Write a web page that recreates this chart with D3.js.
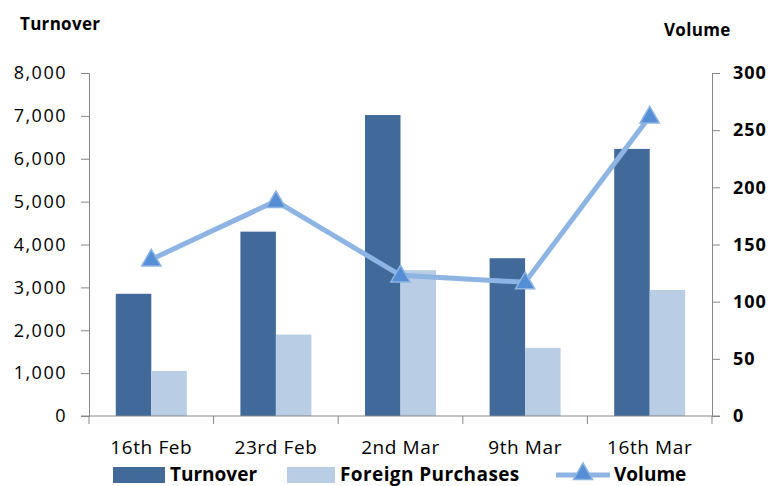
<!DOCTYPE html>
<html>
<head>
<meta charset="utf-8">
<style>
  body { margin: 0; background: #fff; }
  text { font-family: "Open Sans", sans-serif; }
</style>
</head>
<body>
<div id="chart"></div>
<script src="https://cdn.jsdelivr.net/npm/d3@7"></script>
<script>
var width = 772, height = 486;

var weeks = ['16th Feb', '23rd Feb', '2nd Mar', '9th Mar', '16th Mar'];
var turnover = [2850, 4300, 7020, 3680, 6230];
var foreign = [1050, 1900, 3400, 1590, 2940];
var volume = [137, 188, 123, 117, 262];

var leftTicks = [0, 1000, 2000, 3000, 4000, 5000, 6000, 7000, 8000];
var rightTicks = [0, 50, 100, 150, 200, 250, 300];

var margin = {left: 89, right: 60, top: 73, bottom: 70};

var svg = d3.select('#chart').append('svg')
    .attr('width', width)
    .attr('height', height);

var x = d3.scaleBand()
    .domain(weeks)
    .range([margin.left, width - margin.right]);

var y = d3.scaleLinear().domain([0, 8000]).range([416, margin.top]);
var y2 = d3.scaleLinear().domain([0, 300]).range([416, margin.top]);

var barW = 35.5;

// bars
svg.selectAll('.turn')
    .data(weeks)
    .enter().append('rect')
    .attr('x', function(d){ return x(d) + x.bandwidth()/2 - barW; })
    .attr('y', function(d, i){ return y(turnover[i]); })
    .attr('width', barW)
    .attr('height', function(d, i){ return y(0) - y(turnover[i]); })
    .attr('fill', '#416a9b');

svg.selectAll('.fp')
    .data(weeks)
    .enter().append('rect')
    .attr('x', function(d){ return x(d) + x.bandwidth()/2; })
    .attr('y', function(d, i){ return y(foreign[i]); })
    .attr('width', barW)
    .attr('height', function(d, i){ return y(0) - y(foreign[i]); })
    .attr('fill', '#b9cde5');

// axes
var axisColor = '#868686';

var left = svg.append('g')
    .attr('transform', 'translate(' + margin.left + ',0)')
    .call(d3.axisLeft(y).tickValues(leftTicks).tickFormat(d3.format(',')).tickSizeOuter(0).tickSize(8).tickPadding(14));
left.selectAll('text').style('font-size', '18px').style('letter-spacing', '1.5px').attr('fill', '#000');

var right = svg.append('g')
    .attr('transform', 'translate(' + (width - margin.right) + ',0)')
    .call(d3.axisRight(y2).tickValues(rightTicks).tickSizeOuter(0).tickSize(8).tickPadding(13));
right.selectAll('text').style('font-size', '18px').style('font-weight', 'bold').style('letter-spacing', '1px').attr('fill', '#000');

var bottom = svg.append('g')
    .attr('transform', 'translate(0,' + y(0) + ')');
bottom.append('line')
    .attr('x1', margin.left - 8).attr('x2', width - margin.right + 8)
    .attr('stroke', axisColor);
bottom.selectAll('.tk')
    .data(d3.range(weeks.length + 1))
    .enter().append('line')
    .attr('x1', function(i){ return margin.left + i * x.step(); })
    .attr('x2', function(i){ return margin.left + i * x.step(); })
    .attr('y1', 0).attr('y2', 8)
    .attr('stroke', axisColor);
bottom.selectAll('.lbl')
    .data(weeks)
    .enter().append('text')
    .attr('x', function(d){ return x(d) + x.bandwidth()/2; })
    .attr('y', 38)
    .attr('text-anchor', 'middle')
    .style('font-size', '19px')
    .style('letter-spacing', '0.6px')
    .text(function(d){ return d; });

svg.selectAll('.domain, .tick line').attr('stroke', axisColor);

// volume line
var line = d3.line()
    .x(function(d, i){ return x(weeks[i]) + x.bandwidth()/2; })
    .y(function(d){ return y2(d); });

svg.append('path')
    .datum(volume)
    .attr('d', line)
    .attr('fill', 'none')
    .attr('stroke', '#8db4e2')
    .attr('stroke-width', 5);

var tri = d3.symbol().type(d3.symbolTriangle).size(160);
svg.selectAll('.mk')
    .data(volume)
    .enter().append('path')
    .attr('d', tri)
    .attr('transform', function(d, i){ return 'translate(' + (x(weeks[i]) + x.bandwidth()/2) + ',' + (y2(d) + 1) + ')'; })
    .attr('fill', '#558ed5')
    .attr('stroke', '#8db4e2')
    .attr('stroke-width', 1.5);

// axis titles
svg.append('text').attr('x', 20).attr('y', 30)
    .style('font-size', '17px').style('font-weight', 'bold').style('letter-spacing', '0.3px').text('Turnover');
svg.append('text').attr('x', 664).attr('y', 36)
    .style('font-size', '17px').style('font-weight', 'bold').style('letter-spacing', '0.3px').text('Volume');

// legend
var lg = svg.append('g').attr('transform', 'translate(0,475)');
lg.append('rect').attr('x', 113).attr('y', -8).attr('width', 52).attr('height', 16).attr('fill', '#416a9b');
lg.append('text').attr('x', 170).attr('y', 6).style('font-size', '19px').style('font-weight', 'bold').text('Turnover');
lg.append('rect').attr('x', 287).attr('y', -8).attr('width', 48).attr('height', 16).attr('fill', '#b9cde5');
lg.append('text').attr('x', 340).attr('y', 6).style('font-size', '19px').style('font-weight', 'bold').style('letter-spacing', '0.4px').text('Foreign Purchases');
lg.append('line').attr('x1', 556).attr('x2', 610).attr('y1', 0).attr('y2', 0)
    .attr('stroke', '#8db4e2').attr('stroke-width', 5);
lg.append('path').attr('d', tri).attr('transform', 'translate(583,-1)')
    .attr('fill', '#558ed5').attr('stroke', '#8db4e2').attr('stroke-width', 1.5);
lg.append('text').attr('x', 614).attr('y', 6).style('font-size', '19px').style('font-weight', 'bold').text('Volume');
</script>
</body>
</html>
